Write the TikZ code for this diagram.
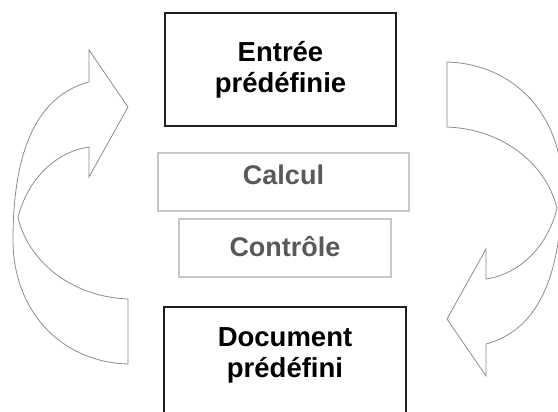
\documentclass[tikz,border=0pt]{standalone}
\usepackage{fontspec}
\setmainfont{Liberation Sans}
\tikzset{
  darkbox/.style={draw=black!88, line width=1.6pt, minimum width=#1},
  lightbox/.style={draw=black!22, line width=1.4pt},
  darktext/.style={font=\bfseries\fontsize{27.5}{31}\selectfont, text=black, align=center},
  graytext/.style={font=\bfseries\fontsize{27}{30}\selectfont, text=black!65},
  bentline/.style={draw=black!45, line width=0.8pt, line join=miter},
}
% outline of a curved "turn" arrow: band bending from the lower tail round to the upper head
\newcommand\bentarrowpath{
  (128,364) .. controls (60,362) and (13,310) .. (13,240)
            .. controls (13,145) and (40,95) .. (89,82)
  -- (89,50) -- (128,107) -- (89,177) -- (89,147)
  .. controls (55,152) and (27,180) .. (18,218)
  .. controls (30,265) and (75,297) .. (128,299) -- cycle
}
\begin{document}
\begin{tikzpicture}[x=1pt, y=-1pt]
  \useasboundingbox (0,0) rectangle (558,412);
  \clip (0,0) rectangle (558,412);

  % the two curved arrows (the second is the first turned half a revolution)
  \draw[bentline] \bentarrowpath;
  \begin{scope}[rotate around={180:(287.5,213)}]
    \draw[bentline] \bentarrowpath;
  \end{scope}

  % boxes
  \node[darkbox=231pt, minimum height=113pt, darktext] (entree) at (280.5,69.5)
    {Entrée\\prédéfinie};
  \node[lightbox, minimum width=251pt, minimum height=58pt] (calcul) at (283.5,182) {};
  \node[graytext] (calcultxt) at (283.5,175) {Calcul};
  \node[lightbox, minimum width=212pt, minimum height=58pt] (controle) at (285,248) {};
  \node[graytext] (controletxt) at (285,247) {Contrôle};
  \node[darkbox=242pt, minimum height=113pt] (document) at (285,363.5) {};
  \node[darktext] (documenttxt) at (285,355) {Document\\prédéfini};
\end{tikzpicture}
\end{document}
